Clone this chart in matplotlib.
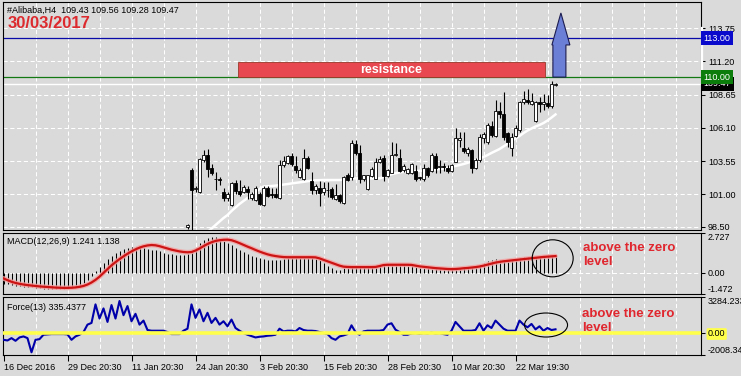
import numpy as np
import matplotlib
matplotlib.use('Agg')
import matplotlib.pyplot as plt
import matplotlib.transforms as mtransforms
from matplotlib.patches import Rectangle, Ellipse, Polygon

plt.rcParams['font.family'] = ['Liberation Sans', 'DejaVu Sans']

# ---------------- data ----------------
symbol_line = '#Alibaba,H4  109.43 109.56 109.28 109.47'
date_text = '30/03/2017'

n_bars = 139          # H4 bars on screen, index 0 = 16 Dec 2016
first_candle = 46     # candles before this one are below the fixed price scale

opens = [98.45, 102.86, 101.40, 101.20, 103.60, 104.00, 103.00, 102.20, 102.20, 101.20,
         100.70, 100.17, 101.84, 101.24, 101.20, 101.40, 100.70, 100.55, 101.00, 100.20,
         101.50, 101.05, 101.05, 100.70, 103.25, 103.40, 103.90, 103.15, 102.35, 102.20,
         103.80, 102.05, 101.30, 101.50, 101.15, 101.35, 101.40, 100.60, 100.95, 100.30,
         102.45, 102.35, 104.85, 104.15, 102.20, 101.40, 102.40, 102.20, 103.45, 103.75,
         102.40, 102.65, 104.00, 103.75, 102.85, 102.65, 102.65, 102.80, 102.30, 102.15,
         103.00, 102.80, 103.90, 103.10, 103.15, 103.00, 102.75, 103.50, 105.20, 104.55,
         104.15, 104.40, 103.05, 103.60, 105.35, 105.05, 106.25, 105.50, 107.40, 107.15,
         105.70, 104.55, 105.50, 105.95, 108.10, 108.25, 107.95, 106.65, 108.10, 107.95,
         108.00, 107.75, 109.43]
highs = [98.70, 103.00, 101.60, 103.80, 104.40, 104.50, 103.35, 102.70, 102.30, 101.45,
         101.20, 101.95, 102.10, 102.10, 101.70, 101.65, 101.20, 101.60, 101.20, 101.65,
         101.65, 101.45, 101.45, 103.60, 103.95, 104.05, 104.15, 103.90, 103.05, 104.50,
         103.95, 102.70, 101.75, 102.05, 101.95, 101.95, 101.55, 101.80, 101.05, 102.40,
         102.60, 105.20, 105.15, 104.80, 102.50, 102.50, 103.10, 103.80, 103.95, 104.00,
         102.90, 105.00, 104.90, 104.50, 103.30, 103.00, 103.40, 103.25, 102.35, 103.30,
         103.10, 104.20, 104.15, 103.60, 103.40, 103.25, 103.30, 106.05, 105.80, 105.80,
         104.65, 104.50, 103.80, 105.60, 105.80, 106.45, 106.60, 108.25, 108.10, 108.85,
         105.80, 105.70, 106.30, 108.20, 108.95, 109.10, 108.75, 108.20, 108.50, 108.70,
         108.60, 109.70, 109.56]
lows = [98.30, 96.00, 101.20, 101.10, 103.50, 102.30, 102.45, 101.35, 101.70, 100.50,
        100.50, 100.10, 101.05, 100.90, 101.10, 100.60, 100.55, 100.50, 100.15, 100.10,
        100.80, 100.70, 100.70, 100.60, 103.10, 103.30, 103.20, 102.60, 102.25, 102.10,
        102.90, 101.05, 101.00, 100.10, 100.95, 100.75, 100.60, 100.55, 100.35, 100.25,
        102.00, 102.10, 104.05, 101.85, 102.00, 101.30, 102.35, 102.15, 103.40, 102.05,
        102.35, 102.60, 103.95, 102.70, 102.70, 102.55, 102.55, 102.05, 102.10, 102.05,
        102.30, 102.70, 102.60, 102.60, 102.75, 102.60, 102.70, 103.45, 104.65, 104.15,
        103.95, 102.60, 102.95, 103.50, 104.90, 104.85, 105.40, 105.40, 106.85, 105.15,
        104.65, 103.95, 105.40, 105.80, 107.95, 107.95, 107.85, 106.55, 107.35, 107.50,
        107.65, 107.65, 109.28]
closes = [98.60, 101.30, 101.45, 103.67, 104.00, 102.90, 102.65, 102.15, 102.10, 100.70,
          101.00, 101.84, 101.24, 101.00, 101.55, 101.20, 101.05, 101.45, 100.25, 101.50,
          100.90, 100.95, 100.80, 103.25, 103.55, 103.90, 103.30, 102.85, 102.85, 103.75,
          103.05, 101.30, 101.60, 101.10, 101.50, 101.30, 100.80, 100.95, 100.45, 102.35,
          102.10, 104.90, 104.20, 102.20, 102.45, 102.50, 102.90, 103.50, 103.70, 102.40,
          102.85, 104.00, 104.10, 102.80, 103.15, 102.90, 103.30, 102.15, 102.25, 103.00,
          102.45, 104.00, 103.00, 103.15, 103.10, 102.75, 103.25, 105.30, 105.35, 104.30,
          104.45, 103.05, 103.65, 105.40, 105.60, 106.30, 105.55, 107.40, 107.20, 105.40,
          105.05, 105.40, 106.10, 108.10, 108.30, 108.10, 108.20, 108.10, 107.95, 108.10,
          107.75, 109.45, 109.47]

ma_start = 51         # white moving average enters the visible range here
ma_values = [98.09, 98.36, 98.63, 98.90, 99.17, 99.40, 99.71, 99.98, 100.25, 100.48,
             100.71, 100.94, 101.17, 101.40, 101.59, 101.61, 101.63, 101.66, 101.70, 101.74,
             101.78, 101.83, 101.87, 101.91, 101.95, 102.00, 102.04, 102.07, 102.08, 102.09,
             102.09, 102.09, 102.09, 102.09, 102.11, 102.15, 102.20, 102.22, 102.22, 102.22,
             102.22, 102.22, 102.22, 102.22, 102.32, 102.44, 102.54, 102.61, 102.68, 102.72,
             102.74, 102.77, 102.78, 102.80, 102.82, 102.85, 102.87, 102.90, 102.93, 102.97,
             103.03, 103.10, 103.17, 103.24, 103.32, 103.41, 103.51, 103.63, 103.74, 103.86,
             104.01, 104.17, 104.32, 104.47, 104.67, 104.86, 105.09, 105.28, 105.47, 105.70,
             105.89, 106.05, 106.20, 106.32, 106.47, 106.66, 106.89, 107.13]

macd_main = [-0.77, -0.81, -0.86, -0.90, -0.94, -0.97, -0.99, -1.01, -1.05, -1.08,
             -1.12, -1.14, -1.16, -1.16, -1.14, -1.12, -1.09, -1.05, -0.98, -0.88,
             -0.72, -0.50, -0.22, 0.12, 0.40, 0.68, 0.91, 1.12, 1.33, 1.50,
             1.63, 1.72, 1.77, 1.77, 1.73, 1.68, 1.64, 1.59, 1.53, 1.46,
             1.38, 1.31, 1.26, 1.23, 1.20, 1.20, 1.26, 1.46, 1.72, 2.01,
             2.23, 2.38, 2.43, 2.42, 2.34, 2.21, 2.07, 1.90, 1.72, 1.57,
             1.42, 1.29, 1.16, 1.07, 0.98, 0.92, 0.88, 0.87, 0.87, 0.89,
             0.93, 0.98, 1.02, 1.03, 1.03, 1.02, 1.02, 1.00, 0.97, 0.85,
             0.65, 0.45, 0.30, 0.20, 0.20, 0.30, 0.35, 0.38, 0.40, 0.40,
             0.38, 0.38, 0.40, 0.40, 0.45, 0.52, 0.55, 0.55, 0.52, 0.50,
             0.50, 0.48, 0.45, 0.42, 0.35, 0.32, 0.30, 0.28, 0.26, 0.25,
             0.24, 0.22, 0.22, 0.30, 0.35, 0.38, 0.40, 0.38, 0.42, 0.55,
             0.68, 0.78, 0.88, 0.92, 0.90, 0.86, 0.82, 0.85, 0.90, 1.00,
             1.05, 1.08, 1.10, 1.08, 1.10, 1.12, 1.12, 1.20, 1.241]
macd_signal = [-0.40, -0.52, -0.63, -0.71, -0.77, -0.82, -0.86, -0.89, -0.92, -0.95,
               -0.97, -0.99, -1.01, -1.03, -1.04, -1.05, -1.05, -1.04, -1.02, -0.98,
               -0.92, -0.82, -0.68, -0.50, -0.28, -0.02, 0.25, 0.50, 0.72, 0.93,
               1.12, 1.30, 1.46, 1.60, 1.72, 1.81, 1.87, 1.90, 1.88, 1.82,
               1.74, 1.66, 1.58, 1.52, 1.46, 1.42, 1.40, 1.42, 1.52, 1.66,
               1.82, 1.97, 2.09, 2.18, 2.23, 2.26, 2.27, 2.23, 2.14, 2.03,
               1.91, 1.79, 1.68, 1.56, 1.45, 1.35, 1.26, 1.19, 1.14, 1.10,
               1.07, 1.06, 1.06, 1.06, 1.06, 1.06, 1.06, 1.06, 1.05, 0.98,
               0.88, 0.78, 0.68, 0.58, 0.48, 0.41, 0.39, 0.38, 0.38, 0.38,
               0.38, 0.38, 0.38, 0.39, 0.45, 0.52, 0.54, 0.54, 0.54, 0.54,
               0.54, 0.54, 0.53, 0.48, 0.43, 0.40, 0.37, 0.34, 0.31, 0.29,
               0.27, 0.25, 0.24, 0.25, 0.27, 0.30, 0.32, 0.35, 0.38, 0.42,
               0.48, 0.55, 0.62, 0.69, 0.74, 0.78, 0.81, 0.84, 0.87, 0.90,
               0.93, 0.96, 0.99, 1.02, 1.05, 1.08, 1.10, 1.12, 1.138]

force = [-622, -684, -468, -714, -406, -314, -468, -1761, -622, -560,
         -160, -129, -99, -99, -99, -99, -129, -622, -314, -160,
         86, 764, 918, 2611, 1318, 2241, 1010, 2549, 1318, 2919,
         1626, 2457, 1071, 1749, 764, 1133, 271, 209, 209, 209,
         209, 86, -99, -99, -99, 209, 394, 2611, 1379, 2149,
         1071, 1841, 918, 1379, 764, 1071, 610, 1225, 456, 209,
         -6, -160, -283, -406, -345, -314, -252, -222, -160, 394,
         148, 209, 209, 148, 456, 271, 209, 209, 179, 86,
         -6, -99, -468, -622, -314, -222, -99, 702, 86, -160,
         148, 209, 209, 209, 209, 271, 764, 887, 302, 86,
         -160, -160, -37, -6, -68, -6, -37, 25, -37, -6,
         -99, -160, 209, 1010, 610, 209, 209, 209, 271, 887,
         209, 702, 456, 1133, 764, 394, 209, 209, 209, 1133,
         764, 517, 825, 333, 610, 209, 456, 271, 335.4377]

tick_bars = [0, 16, 32, 48, 64, 80, 96, 112, 128]
tick_labels = ['16 Dec 2016', '29 Dec 20:30', '11 Jan 20:30', '24 Jan 20:30', '3 Feb 20:30',
               '15 Feb 20:30', '28 Feb 20:30', '10 Mar 20:30', '22 Mar 19:30']

price_ticks = [98.50, 101.00, 103.55, 106.10, 108.65, 111.20, 113.75]
price_range = (98.25, 115.77)
macd_range = (-1.472, 2.727)
force_range = (-2008.34, 3284.233)

resistance = 110.00
target = 113.00
bid = 109.47

# ---------------- layout ----------------
W, H = 741, 376
BG = '#dadada'
GRID = dict(color='white', lw=0.75, ls=(0, (4, 2.5)), zorder=0.5)
LBL = 6.5
RED_TXT = '#e0262e'

fig = plt.figure(figsize=(W / 100, H / 100), dpi=100, facecolor=BG)


def px_axes(top, bottom, left=3, right=701):
    a = fig.add_axes([left / W, 1 - bottom / H, (right - left) / W, (bottom - top) / H])
    a.set_facecolor(BG)
    for s in a.spines.values():
        s.set_color('black')
        s.set_linewidth(0.8)
    a.set_xlim(-0.125, 174.375)
    return a


ax = px_axes(2, 230)
ax_macd = px_axes(233, 294)
ax_force = px_axes(297, 355)

bars = np.arange(n_bars)
for a in (ax, ax_macd, ax_force):
    for gx in range(8, 175, 8):
        a.axvline(gx, **GRID)
    a.yaxis.tick_right()
    a.tick_params(axis='y', length=3, width=0.75, labelsize=LBL, pad=2)

# ---- main price panel ----
ax.set_ylim(*price_range)
ax.set_yticks(price_ticks, [f'{v:.2f}' for v in price_ticks])
for v in price_ticks:
    ax.axhline(v, **GRID)
ax.set_xticks([])

ax.axhline(bid, color='white', lw=1.0, zorder=1)
ax.axhline(target, color='#0a0aa8', lw=0.9, zorder=1)
ax.axhline(resistance, color='#137a13', lw=0.9, zorder=1)

ax.plot(np.arange(ma_start, ma_start + len(ma_values)), ma_values, color='white', lw=1.8, zorder=2)

o, h, l, c = map(np.array, (opens, highs, lows, closes))
cx = np.arange(first_candle, first_candle + len(o))
ax.vlines(cx, l, h, color='black', lw=0.8, zorder=3)
up = c >= o
ax.bar(cx, np.maximum(np.abs(c - o), 0.015), bottom=np.minimum(o, c), width=0.55,
       color=np.where(up, 'white', 'black'), edgecolor='black', linewidth=0.6, zorder=4)

# resistance band and breakout arrow
ax.add_patch(Rectangle((58.6, resistance), 76.8, 1.15, facecolor='#e8484f',
                       edgecolor='#9a3a2a', lw=0.6, zorder=5))
ax.text(58.6 + 76.8 / 2, resistance + 0.56, 'resistance', color='white', fontsize=9,
        fontweight='bold', ha='center', va='center', zorder=6)
ax.add_patch(Polygon([(137.35, resistance), (140.6, resistance), (140.6, 112.47),
                      (141.6, 112.47), (139.35, 114.93), (137.1, 112.47), (137.35, 112.47)],
                     closed=True, facecolor='#6b7fd6', edgecolor='#1c1c50', lw=0.8, zorder=6))

# price boxes on the scale
tr = mtransforms.blended_transform_factory(ax.transAxes, ax.transData)
for val, fc in ((bid, 'black'), (resistance, '#0b7d0b'), (target, '#0a0acc')):
    ax.text(1.004, val, f'{val:.2f}', transform=tr, color='white', fontsize=LBL,
            ha='left', va='center', clip_on=False, zorder=10,
            bbox=dict(boxstyle='square,pad=0.28', fc=fc, ec='none'))
ax.plot([1.0015, 1.0015], [bid, 113.8], transform=tr, color='white', lw=1.6,
        clip_on=False, zorder=9)

fig.text(7 / W, 1 - 10 / H, symbol_line, fontsize=LBL, va='center', ha='left')
fig.text(8 / W, 1 - 24 / H, date_text, fontsize=12, fontweight='bold', color='#dc2a2f',
         va='center', ha='left')

# ---- MACD panel ----
ax_macd.set_ylim(*macd_range)
ax_macd.axhline(0, **GRID)
ax_macd.vlines(bars, 0, macd_main, color='black', lw=0.75, zorder=2)
ax_macd.plot(bars, macd_signal, color='#f3a3a3', lw=3.4, alpha=0.85, zorder=3,
             solid_capstyle='round')
ax_macd.plot(bars, macd_signal, color='#cc1414', lw=1.6, zorder=4)
ax_macd.set_yticks([macd_range[1], 0, macd_range[0]], ['2.727', '0.00', '-1.472'])
ax_macd.set_xticks([])
mt = ax_macd.yaxis.get_major_ticks()
mt[0].label2.set_va('top')
mt[2].label2.set_va('bottom')
fig.text(7 / W, 1 - 242 / H, f'MACD(12,26,9) {macd_main[-1]:.3f} {macd_signal[-1]:.3f}',
         fontsize=LBL, va='center', ha='left')
ax_macd.add_patch(Ellipse((0.7875, 0.585), 0.0587, 0.607, transform=ax_macd.transAxes,
                          fill=False, ec='black', lw=0.8, zorder=6, clip_on=False))
fig.text(583 / W, 1 - 255 / H, 'above the zero\nlevel', color=RED_TXT, fontsize=9.5,
         fontweight='bold', va='center', ha='left', linespacing=1.2)

# ---- Force panel ----
ax_force.set_ylim(*force_range)
ax_force.plot(bars, force, color='#0000aa', lw=1.5, zorder=3)
ax_force.axhline(0, color='#ffff4a', lw=2.6, zorder=4)
ax_force.set_yticks([force_range[1], 0, force_range[0]], ['3284.233', '0.00', '-2008.34'])
ft = ax_force.yaxis.get_major_ticks()
ft[0].label2.set_va('top')
ft[2].label2.set_va('bottom')
ft[1].label2.set_bbox(dict(boxstyle='round,pad=0.15', fc='#ffff4a', ec='none'))
fig.text(7 / W, 1 - 308 / H, f'Force(13) {force[-1]:.4f}', fontsize=LBL,
         va='center', ha='left')
ax_force.add_patch(Ellipse((0.778, 0.517), 0.0616, 0.414, transform=ax_force.transAxes,
                           fill=False, ec='black', lw=0.8, zorder=6, clip_on=False))
fig.text(582 / W, 1 - 321 / H, 'above the zero\nlevel', color=RED_TXT, fontsize=9.5,
         fontweight='bold', va='center', ha='left', linespacing=1.2)

ax_force.set_xticks(tick_bars, tick_labels)
ax_force.tick_params(axis='x', length=4, width=0.75, labelsize=LBL, pad=2)
for t in ax_force.get_xticklabels():
    t.set_ha('left')

fig.savefig('out.png', dpi=100, facecolor=BG)
